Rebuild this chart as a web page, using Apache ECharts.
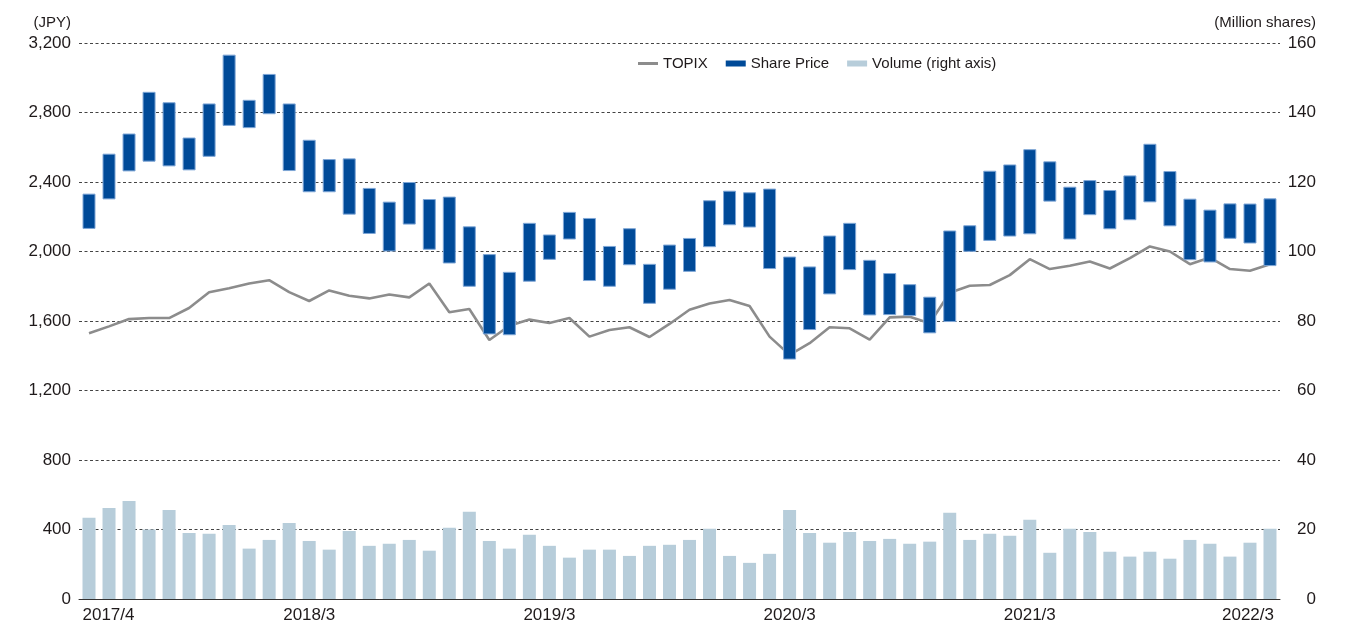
<!DOCTYPE html>
<html>
<head>
<meta charset="utf-8">
<script src="https://cdn.jsdelivr.net/npm/echarts/dist/echarts.min.js"></script>
<style>
html,body{margin:0;padding:0;background:#fff;}
#chart{width:1345px;height:624px;}
</style>
</head>
<body>
<div id="chart"></div>
<script>
const categories = [
 '2017/4','2017/5','2017/6','2017/7','2017/8','2017/9','2017/10','2017/11','2017/12',
 '2018/1','2018/2','2018/3','2018/4','2018/5','2018/6','2018/7','2018/8','2018/9','2018/10','2018/11','2018/12',
 '2019/1','2019/2','2019/3','2019/4','2019/5','2019/6','2019/7','2019/8','2019/9','2019/10','2019/11','2019/12',
 '2020/1','2020/2','2020/3','2020/4','2020/5','2020/6','2020/7','2020/8','2020/9','2020/10','2020/11','2020/12',
 '2021/1','2021/2','2021/3','2021/4','2021/5','2021/6','2021/7','2021/8','2021/9','2021/10','2021/11','2021/12',
 '2022/1','2022/2','2022/3'
];
const shownLabels = ['2017/4','2018/3','2019/3','2020/3','2021/3','2022/3'];

// Share price monthly range (JPY)
const priceHigh = [
 2333,2563,2679,2919,2859,2656,2852,3133,2873,3022,
 2852,2643,2532,2536,2366,2287,2400,2302,2316,2145,
 1985,1883,2165,2098,2228,2193,2032,2134,1929,2040,
 2078,2295,2350,2341,2362,1971,1914,2092,2165,1952,
 1876,1812,1740,2121,2151,2465,2501,2589,2519,2373,
 2411,2354,2438,2620,2463,2304,2241,2277,2276,2306
];
const priceLow = [
 2130,2300,2461,2517,2490,2467,2545,2723,2710,2790,
 2463,2341,2341,2212,2101,2000,2155,2010,1931,1797,
 1523,1518,1826,1952,2069,1830,1797,1921,1699,1780,
 1883,2025,2151,2138,1899,1378,1548,1753,1893,1632,
 1634,1629,1529,1594,1998,2061,2086,2099,2287,2069,
 2209,2128,2180,2283,2145,1950,1937,2073,2046,1916
];
// TOPIX (left axis)
const topix = [
 1529,1569,1611,1617,1617,1675,1766,1789,1816,1835,
 1766,1715,1776,1745,1730,1753,1736,1816,1650,1669,
 1491,1573,1608,1588,1617,1510,1548,1564,1508,1583,
 1665,1701,1721,1686,1510,1405,1472,1564,1558,1493,
 1621,1625,1587,1763,1803,1807,1864,1956,1899,1918,
 1943,1902,1962,2029,2000,1927,1965,1899,1889,1927
];
// Volume (million shares, right axis)
const volume = [
 23.4,26.2,28.2,20.0,25.6,19.0,18.8,21.3,14.5,17.0,
 21.9,16.7,14.2,19.6,15.3,15.9,17.0,13.9,20.5,25.1,
 16.7,14.5,18.5,15.3,11.9,14.2,14.2,12.4,15.3,15.6,
 17.0,20.2,12.4,10.4,13.0,25.6,19.0,16.2,19.3,16.7,
 17.3,15.9,16.5,24.8,17.0,18.8,18.2,22.8,13.3,20.2,
 19.3,13.6,12.2,13.6,11.6,17.0,15.9,12.2,16.2,20.2
];
const seriesNames = ['TOPIX','Share Price','Volume (right axis)'];
const leftAxisName = '(JPY)';
const rightAxisName = '(Million shares)';

const FONT = "'Liberation Sans', Arial, sans-serif";
const TXT = '#1f1a1b';
const priceRange = priceHigh.map((h, i) => h - priceLow[i]);

const chart = echarts.init(document.getElementById('chart'), null, {renderer: 'canvas'});
chart.setOption({
  animation: false,
  backgroundColor: '#fff',
  textStyle: {fontFamily: FONT, color: TXT},
  grid: {left: 79, right: 65, top: 43, bottom: 25, containLabel: false, outerBoundsMode: 'none'},
  graphic: [
    {type: 'text', right: 1345 - 71, top: 15, style: {text: leftAxisName, font: '15px ' + FONT, fill: TXT}},
    {type: 'text', right: 1345 - 1316, top: 15, style: {text: rightAxisName, font: '15px ' + FONT, fill: TXT}}
  ],
  legend: {
    left: 633, top: 51,
    itemWidth: 20, itemHeight: 6, itemGap: 18,
    textStyle: {fontSize: 15, color: TXT, fontFamily: FONT},
    data: [
      {name: seriesNames[0], icon: 'path://M0,0 L20,0 L20,3 L0,3 Z', itemStyle: {color: '#8c8c8c'}},
      {name: seriesNames[1], icon: 'rect', itemStyle: {color: '#004a98', borderWidth: 0}},
      {name: seriesNames[2], icon: 'rect', itemStyle: {color: '#b7cdda', borderWidth: 0}}
    ]
  },
  xAxis: {
    type: 'category',
    data: categories,
    boundaryGap: true,
    axisLine: {show: true, lineStyle: {color: '#333', width: 1}},
    axisTick: {show: false},
    axisLabel: {
      interval: (i, v) => shownLabels.indexOf(v) >= 0,
      margin: 8,
      fontSize: 17, color: TXT, fontFamily: FONT,
      formatter: (v) => {
        if (v === categories[0]) return '{first|' + v + '}';
        if (v === categories[categories.length - 1]) return '{last|' + v + '}';
        return v;
      },
      rich: {
        first: {padding: [0, 0, 0, 39], fontSize: 17, color: TXT, fontFamily: FONT},
        last: {padding: [0, 44, 0, 0], fontSize: 17, color: TXT, fontFamily: FONT}
      }
    },
    splitLine: {show: false}
  },
  yAxis: [
    {
      type: 'value', min: 0, max: 3200, interval: 400,
      axisLine: {show: false}, axisTick: {show: false},
      axisLabel: {
        margin: 8, fontSize: 17, color: TXT, fontFamily: FONT,
        formatter: (v) => v.toLocaleString('en-US')
      },
      splitLine: {show: true, lineStyle: {color: '#444', width: 1, type: [3, 2.5]}}
    },
    {
      type: 'value', min: 0, max: 160, interval: 20, position: 'right',
      axisLine: {show: false}, axisTick: {show: false},
      axisLabel: {margin: 36, align: 'right', fontSize: 17, color: TXT, fontFamily: FONT},
      splitLine: {show: false}
    }
  ],
  series: [
    {
      name: seriesNames[0], type: 'line', data: topix, yAxisIndex: 0,
      symbol: 'none', z: 1,
      lineStyle: {color: '#8c8c8c', width: 2.6},
      itemStyle: {color: '#8c8c8c'}
    },
    {
      name: seriesNames[2], type: 'bar', data: volume, yAxisIndex: 1,
      barWidth: 13, barGap: '-100%',
      itemStyle: {color: '#b7cdda'}
    },
    {
      name: '_base', type: 'bar', data: priceLow, yAxisIndex: 0, stack: 'price',
      barWidth: 13, barGap: '-100%', silent: true,
      itemStyle: {color: 'rgba(0,0,0,0)'}
    },
    {
      name: seriesNames[1], type: 'bar', data: priceRange, yAxisIndex: 0, stack: 'price',
      barWidth: 13, barGap: '-100%',
      itemStyle: {color: '#004a98', borderColor: '#7ea6d6', borderWidth: 1}
    }
  ]
});
</script>
</body>
</html>
